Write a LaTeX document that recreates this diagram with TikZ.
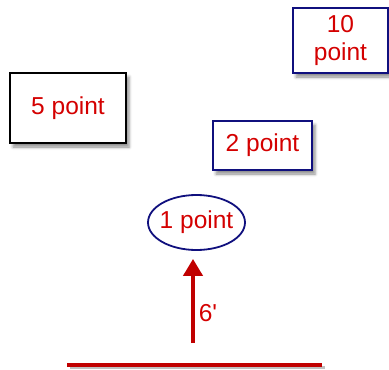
\documentclass[tikz,border=0pt]{standalone}
\usepackage{fontspec}
\setmainfont{Liberation Sans}
\usepackage{tikz}
\usetikzlibrary{shapes.geometric, arrows.meta, positioning, shadows.blur}
\definecolor{pttext}{HTML}{D40000}
\definecolor{ptnavy}{HTML}{10107E}
\definecolor{ptarrow}{HTML}{C00000}

\begin{document}
\begin{tikzpicture}[x=1pt, y=-1pt,
    ptbox/.style={draw=#1, line width=1.8pt, fill=white, text=pttext,
        font=\fontsize{24.5}{28}\selectfont, align=center,
        blur shadow={shadow xshift=3pt, shadow yshift=-4pt,
                     shadow blur radius=3pt, shadow opacity=45}}]
\useasboundingbox (0,0) rectangle (389,370);
% Boxes
\node[ptbox=black, minimum width=116pt, minimum height=70pt] (five) at (68,108) {5 point};
\node[ptbox=ptnavy, minimum width=99pt, minimum height=49pt] (two) at (262.5,145.5) {2 point};
\node[ptbox=ptnavy, minimum width=95pt, minimum height=65pt] (ten) at (340.5,40.5) {10\\point};
% Ellipse
\node[ptbox=ptnavy, ellipse, inner xsep=-3.5pt, inner ysep=0pt, minimum width=97pt,
      minimum height=55pt, blur shadow={shadow opacity=0}] (one) at (196.5,222.5) {1 point};
% Arrow
\coordinate (base) at (193,343);
\draw[ptarrow, line width=4pt, -{Triangle[length=17pt, width=19pt]}, shorten >=8pt]
    (base) -- (base |- one.south);
\node[text=pttext, font=\fontsize{24.5}{28}\selectfont] (dist) at (208,313) {6\textquotesingle};
% Ground line
\coordinate (gl) at (67,364.5);
\coordinate (gr) at (322,364.5);
\draw[black!25, line width=3pt] ([shift={(3,3)}]gl) -- ([shift={(3,3)}]gr);
\draw[ptarrow, line width=4pt] (gl) -- (gr);
\end{tikzpicture}
\end{document}
